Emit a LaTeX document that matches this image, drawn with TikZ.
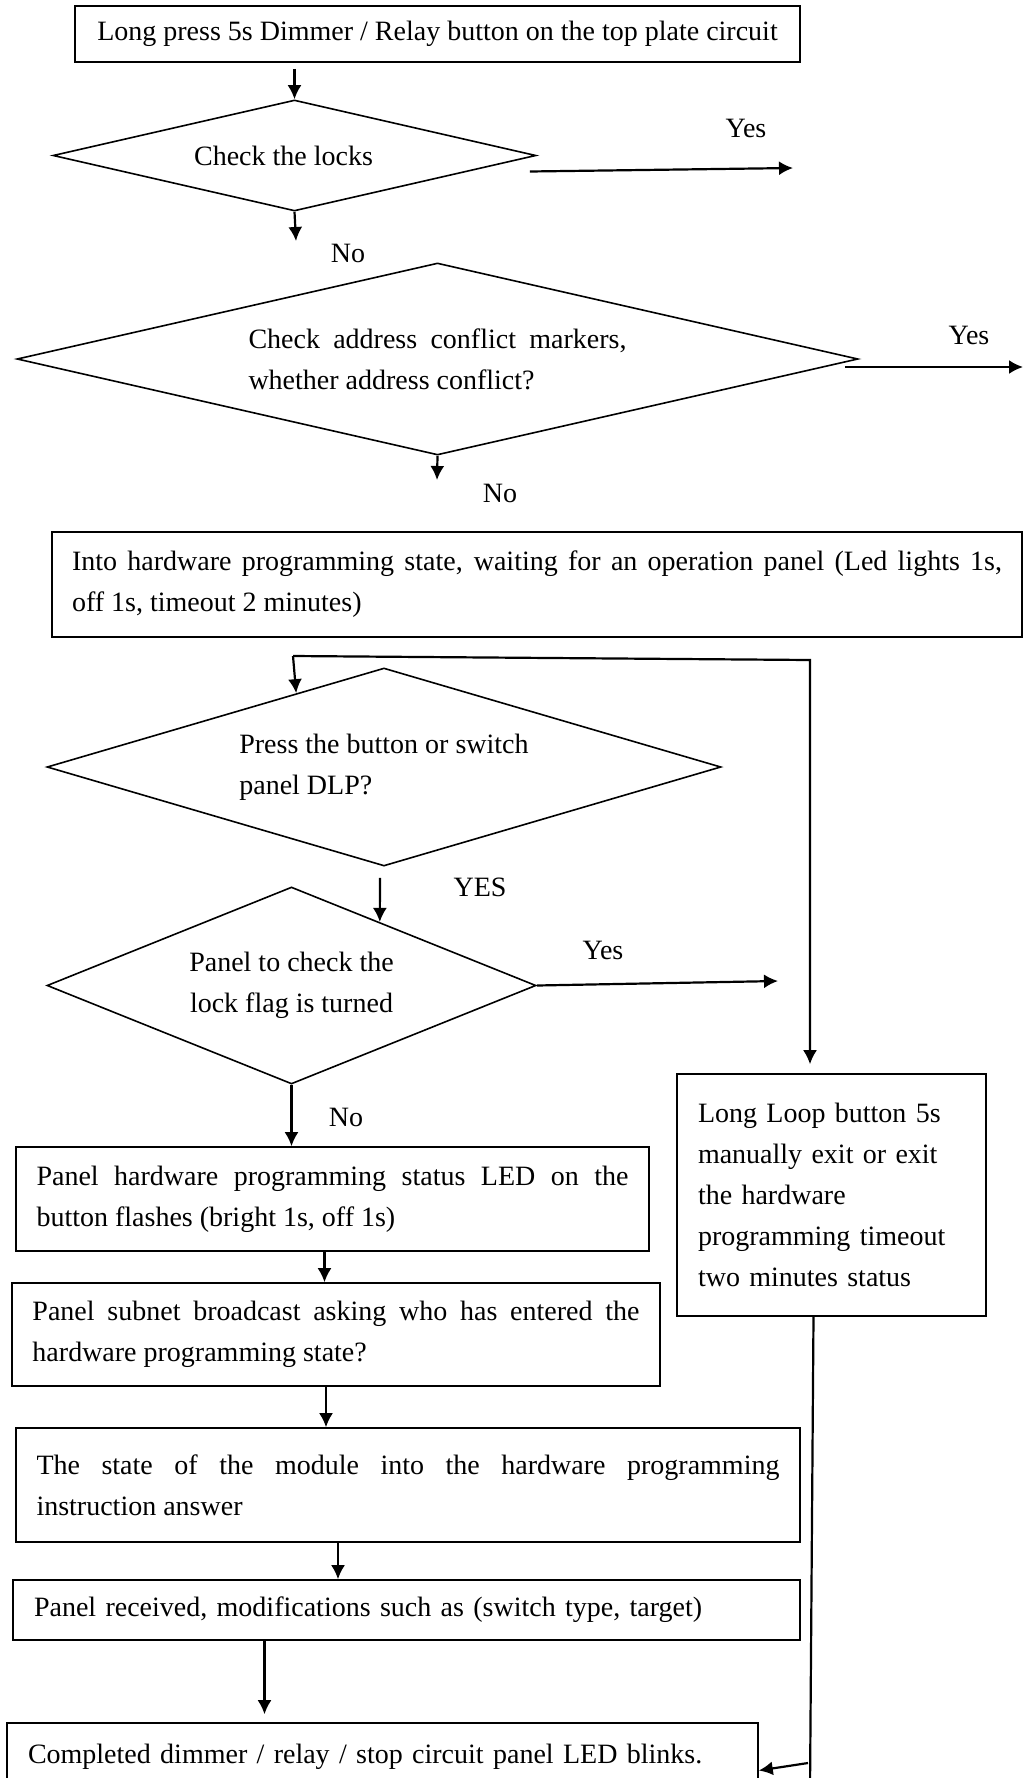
\documentclass[tikz,border=0pt]{standalone}
\usepackage{fontspec}
\setmainfont{Liberation Serif}
\usetikzlibrary{calc, shapes.geometric, arrows.meta}
\hyphenpenalty=10000
\tolerance=10000

\begin{document}
\begin{tikzpicture}[x=0.5pt, y=-0.5pt, >={Latex[length=7pt,width=7pt]},
    every node/.style={font=\fontsize{14pt}{20.5pt}\selectfont},
    stepbox/.style={draw, line width=0.8pt, rectangle, inner sep=0pt},
    testbox/.style={draw, line width=0.8pt, diamond, inner sep=0pt},
    link/.style={->, line width=1.1pt},
    tag/.style={inner sep=0pt}]
    \useasboundingbox (0,0) rectangle (1023,1778);

    % 1. Cac khoi va hinh thoi
    \node[stepbox, minimum width=362.5pt, minimum height=28pt] (start) at (437.5,34)
        {Long press 5s Dimmer / Relay button on the top plate circuit};
    \node[testbox, aspect=4.35, minimum width=241.5pt, minimum height=55.5pt] (locks) at (294.5,155.5)
        {\hspace*{-11pt}Check the locks};
    \node[testbox, aspect=4.38, minimum width=420.5pt, minimum height=96pt, text width=189pt, align=justify] (conflict) at (437.5,359)
        {Check address conflict markers,\linebreak whether address conflict?};
    \node[stepbox, minimum width=485pt, minimum height=52.5pt, text width=465pt, align=justify] (wait) at (537,584.5)
        {Into hardware programming state, waiting for an operation panel (Led lights 1s,\linebreak off 1s, timeout 2 minutes)};
    \node[testbox, aspect=3.4, minimum width=337pt, minimum height=99pt, align=left] (press) at (384,767)
        {Press the button or switch\\panel DLP?};
    \node[testbox, aspect=2.48, minimum width=244.5pt, minimum height=98.5pt, align=center] (flag) at (291.5,985.5)
        {Panel to check the\\lock flag is turned};
    \node[stepbox, minimum width=154.5pt, minimum height=121pt, text width=133.5pt, align=left] (exitbox) at (831.5,1195)
        {Long Loop button 5s\\manually exit or exit\\the hardware\\programming timeout\\two minutes status};
    \node[stepbox, minimum width=316.5pt, minimum height=52pt, text width=296pt, align=justify] (led) at (332.5,1199)
        {Panel hardware programming status LED on the\linebreak button flashes (bright 1s, off 1s)};
    \node[stepbox, minimum width=324pt, minimum height=51.5pt, text width=303.5pt, align=justify] (bcast) at (336,1334.5)
        {Panel subnet broadcast asking who has entered the\linebreak hardware programming state?};
    \node[stepbox, minimum width=392pt, minimum height=57pt, text width=371.5pt, align=justify] (reply) at (408,1485)
        {The state of the module into the hardware programming\linebreak instruction answer};
    \node[stepbox, minimum width=393.5pt, minimum height=30pt, text width=372.5pt, align=left] (recv) at (406.5,1610)
        {Panel received, modifications such as (switch type, target)};
    \node[stepbox, minimum width=375.5pt, minimum height=33.5pt, text width=354.5pt, align=left] (done) at (382.5,1756.5)
        {Completed dimmer / relay / stop circuit panel LED blinks.};

    % 2. Nhan Yes / No
    \node[tag] (locksyeslbl) at (746,128) {Yes};
    \node[tag] (locksnolbl) at (348,253) {No};
    \node[tag] (conflictyeslbl) at (969,335) {Yes};
    \node[tag] (conflictnolbl) at (500,493) {No};
    \node[tag] (pressyeslbl) at (480,887) {YES};
    \node[tag] (flagyeslbl) at (603,950) {Yes};
    \node[tag] (flagnolbl) at (346,1117) {No};

    % 3. Cac diem tu do
    \coordinate (locksyes) at (793,168);
    \coordinate (locksno) at (296,241);
    \coordinate (conflictyes) at (1023,367);
    \coordinate (conflictno) at (437,480);
    \coordinate (loopL) at (293,656);
    \coordinate (loopR) at (810,660);
    \coordinate (flagyes) at (778,981);
    \coordinate (exitdown) at (810,1790);
    \coordinate (exitturn) at (808,1763);
    \coordinate (ledout) at ($(led.south)+(-8,0)$);
    \coordinate (bcastout) at ($(bcast.south)+(-10,0)$);
    \coordinate (replyout) at ($(reply.south)+(-70,0)$);
    \coordinate (recvout) at ($(recv.south)+(-142,0)$);

    % 4. Mui ten
    \draw[link] ($(start.south -| locks.north)+(0,6)$) -- (locks.north);
    \draw[link] ($(locks.east)+(-7,16)$) -- (locksyes);
    \draw[link] (locks.south) -- (locksno);
    \draw[link] ($(conflict.east)+(-14,8)$) -- (conflictyes);
    \draw[link] (conflict.south) -- (conflictno);
    \draw[link] (loopL) -- (loopR) -- ($(exitbox.north -| loopR)+(0,-9)$);
    \draw[link] (loopL) -- ($(press.west)!0.74!(press.north)$);
    \draw[link] ($(press.south)+(-4,11)$) -- ($(flag.north)!0.36!(flag.east)$);
    \draw[link] (flag.east) -- (flagyes);
    \draw[link] (flag.south) -- (flag.south |- led.north);
    \draw[link] (ledout) -- (ledout |- bcast.north);
    \draw[link] (bcastout) -- (bcastout |- reply.north);
    \draw[link] (replyout) -- (replyout |- recv.north);
    \draw[link] (recvout) -- ($(recvout |- done.north)+(0,-8)$);
    \draw[line width=1.1pt] ($(exitbox.south)+(-18,0)$) -- (exitdown);
    \draw[link] (exitturn) -- ($(done.east)+(0,14)$);
\end{tikzpicture}
\end{document}
